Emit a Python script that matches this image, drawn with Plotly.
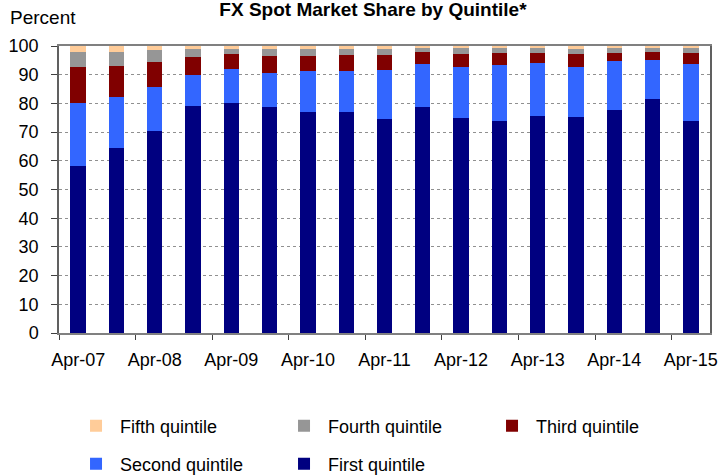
import plotly.graph_objects as go

periods = ["Apr-07", "Oct-07", "Apr-08", "Oct-08", "Apr-09", "Oct-09", "Apr-10", "Oct-10",
           "Apr-11", "Oct-11", "Apr-12", "Oct-12", "Apr-13", "Oct-13", "Apr-14", "Oct-14", "Apr-15"]
tick_labels = ["Apr-07", "Apr-08", "Apr-09", "Apr-10", "Apr-11", "Apr-12", "Apr-13", "Apr-14", "Apr-15"]

first_q = [58.3, 64.5, 70.5, 79.2, 80.2, 78.8, 77.1, 77.0, 74.6, 78.8, 75.0, 74.0, 75.7, 75.3, 77.8, 81.6, 74.0]
second_q = [21.9, 17.6, 15.3, 10.7, 11.7, 11.7, 14.3, 14.3, 17.2, 15.0, 17.7, 19.4, 18.4, 17.4, 17.0, 13.5, 19.7]
third_q = [12.4, 11.0, 8.7, 6.4, 5.4, 6.0, 5.1, 5.6, 5.2, 4.2, 4.6, 4.3, 3.6, 4.4, 2.9, 2.9, 3.7]
fourth_q = [5.4, 4.8, 4.1, 2.8, 1.8, 2.6, 2.6, 2.2, 2.1, 1.4, 2.1, 1.7, 1.7, 2.0, 1.7, 1.4, 2.0]
fifth_q = [2.0, 2.1, 1.4, 0.9, 0.9, 0.9, 0.9, 0.9, 0.9, 0.6, 0.6, 0.6, 0.6, 0.9, 0.6, 0.6, 0.6]

x_idx = list(range(len(periods)))

series = [
    ("First quintile", first_q, "#000080", "legend2"),
    ("Second quintile", second_q, "#3366FF", "legend2"),
    ("Third quintile", third_q, "#800000", "legend"),
    ("Fourth quintile", fourth_q, "#969696", "legend"),
    ("Fifth quintile", fifth_q, "#FFCC99", "legend"),
]

FONT = "Liberation Sans, Arial, sans-serif"
FS = 18

fig = go.Figure()
for name, vals, color, leg in series:
    fig.add_trace(go.Bar(
        x=x_idx, y=vals, name=name, marker=dict(color=color, line=dict(width=0)),
        legend=leg, customdata=periods,
        hovertemplate="%{customdata}: %{y}<extra>" + name + "</extra>",
    ))

leg_common = dict(orientation="h", traceorder="reversed", x=0.02, xanchor="left",
                  yref="container", yanchor="middle", entrywidth=155, entrywidthmode="pixels",
                  itemwidth=38, font=dict(size=FS, family=FONT), bgcolor="rgba(0,0,0,0)")

fig.update_layout(
    barmode="stack",
    bargap=0.6,
    width=720, height=475,
    margin=dict(l=59, r=10, t=46, b=142, autoexpand=False),
    plot_bgcolor="white", paper_bgcolor="white",
    font=dict(family=FONT, size=FS, color="black"),
    title=dict(text="<b>FX Spot Market Share by Quintile*</b>", x=0.518, xanchor="center",
               y=1 - 9 / 475, yanchor="middle", font=dict(size=19, family=FONT, color="black")),
    showlegend=True,
    legend=dict(y=1 - 426 / 475, **leg_common),
    legend2=dict(y=1 - 464 / 475, **leg_common),
    annotations=[dict(text="Percent", xref="paper", yref="paper", x=-51 / 651, y=1 + 28 / 287,
                      xanchor="left", yanchor="middle", showarrow=False,
                      font=dict(size=19, family=FONT, color="black"))],
)

fig.update_xaxes(
    range=[-0.5, len(periods) - 0.5],
    tickmode="array", tickvals=x_idx[::2], ticktext=tick_labels,
    ticks="", showgrid=False, zeroline=False, ticklabelstandoff=10,
    showline=True, linecolor="#808080", linewidth=1.5, mirror=True,
    minor=dict(tickmode="linear", tick0=-0.5, dtick=2, ticks="outside", ticklen=5,
               tickcolor="#404040", showgrid=False),
    tickfont=dict(size=FS, family=FONT),
)
fig.update_yaxes(
    range=[0, 100], dtick=10, tick0=0,
    ticks="outside", ticklen=6, tickcolor="#404040", ticklabelstandoff=9,
    showgrid=True, gridcolor="#909090", griddash="dot", gridwidth=1,
    zeroline=False, showline=True, linecolor="#606060", linewidth=1.5, mirror=True,
    tickfont=dict(size=FS, family=FONT),
)

fig.write_html("out.html", post_script="document.body.style.margin='0';",
               config={"displayModeBar": False})
